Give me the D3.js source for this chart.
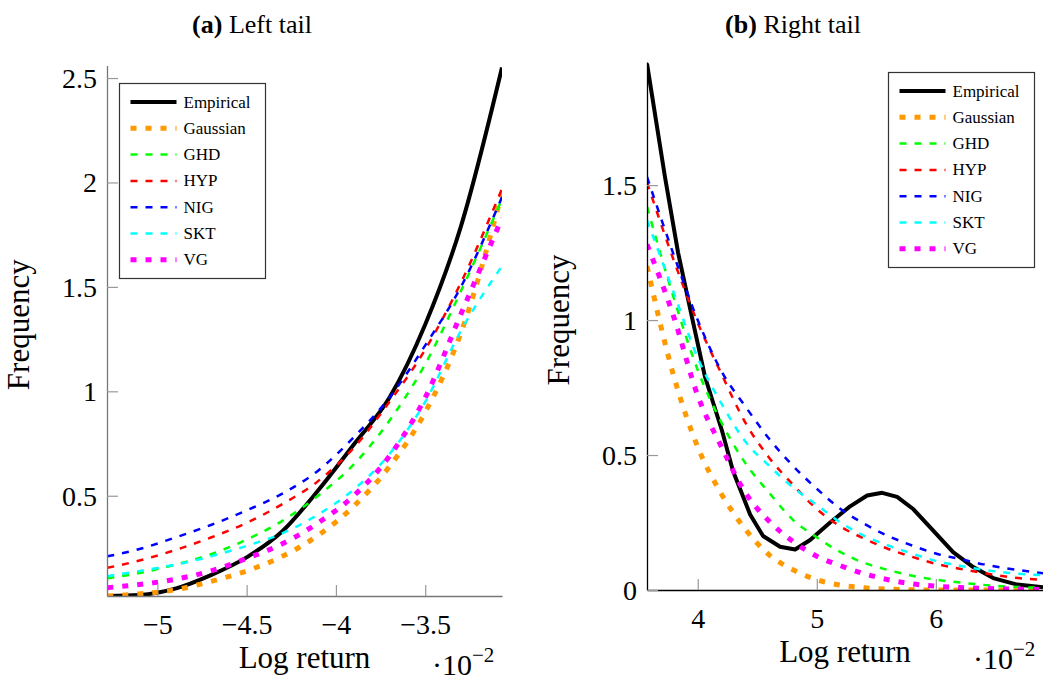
<!DOCTYPE html>
<html>
<head>
<meta charset="utf-8">
<script src="https://cdn.jsdelivr.net/npm/d3@7"></script>
<style>
  body { margin: 0; background: #fff; }
  text { font-family: "Liberation Serif", "DejaVu Serif", serif; }
</style>
</head>
<body>
<div id="chart"></div>
<script>
// ---- data (x in units of 10^-2) ----
var seriesNames = ["Empirical", "Gaussian", "GHD", "HYP", "NIG", "SKT", "VG"];

// left tail
var leftX = [-5.28, -5.1, -4.9, -4.7, -4.5, -4.3, -4.1, -3.9, -3.7, -3.5, -3.3, -3.07];
var leftEmpirical = [0.02, 0.025, 0.055, 0.12, 0.205, 0.33, 0.525, 0.745, 0.97, 1.32, 1.79, 2.55];
var leftGaussian  = [0.02, 0.03, 0.05, 0.09, 0.14, 0.21, 0.31, 0.45, 0.64, 0.90, 1.28, 1.95];
var leftGHD       = [0.105, 0.13, 0.17, 0.22, 0.29, 0.38, 0.50, 0.65, 0.86, 1.13, 1.48, 1.92];
var leftHYP       = [0.155, 0.19, 0.24, 0.30, 0.37, 0.46, 0.57, 0.73, 0.95, 1.20, 1.52, 1.97];
var leftNIG       = [0.21, 0.245, 0.30, 0.36, 0.43, 0.51, 0.62, 0.78, 0.97, 1.22, 1.50, 1.93];
var leftSKT       = [0.115, 0.14, 0.17, 0.21, 0.26, 0.32, 0.41, 0.53, 0.70, 0.95, 1.29, 1.60];
var leftVG        = [0.06, 0.075, 0.10, 0.14, 0.20, 0.27, 0.37, 0.50, 0.69, 0.97, 1.37, 1.83];

// right tail
var rightEmpiricalX = [3.574, 3.725, 3.835, 3.952, 4.061, 4.204, 4.297, 4.44, 4.549, 4.692, 4.818, 4.944,
                       5.112, 5.28, 5.423, 5.549, 5.675, 5.81, 5.978, 6.145, 6.314, 6.482, 6.683, 6.9];
var rightEmpirical  = [1.95, 1.53, 1.25, 1.01, 0.79, 0.59, 0.44, 0.28, 0.20, 0.16, 0.15, 0.185,
                       0.25, 0.31, 0.35, 0.36, 0.345, 0.30, 0.22, 0.14, 0.085, 0.044, 0.02, 0.01];
var rightX        = [3.574, 3.8, 4.0, 4.2, 4.4, 4.6, 4.8, 5.0, 5.2, 5.4, 5.6, 5.8, 6.0, 6.2, 6.4, 6.6, 6.9];
var rightGaussian = [1.20, 0.79, 0.53, 0.355, 0.225, 0.13, 0.075, 0.038, 0.018, 0.008, 0.003, 0.001, 0, 0, 0, 0, 0];
var rightGHD      = [1.42, 1.08, 0.815, 0.62, 0.47, 0.36, 0.26, 0.195, 0.14, 0.10, 0.074, 0.053, 0.038, 0.028, 0.019, 0.013, 0.008];
var rightHYP      = [1.51, 1.22, 0.99, 0.80, 0.62, 0.49, 0.39, 0.30, 0.235, 0.19, 0.152, 0.123, 0.097, 0.079, 0.063, 0.049, 0.037];
var rightNIG      = [1.53, 1.24, 1.00, 0.81, 0.68, 0.56, 0.46, 0.375, 0.30, 0.245, 0.20, 0.165, 0.135, 0.115, 0.095, 0.08, 0.062];
var rightSKT      = [1.37, 1.10, 0.86, 0.69, 0.55, 0.46, 0.38, 0.315, 0.25, 0.20, 0.165, 0.135, 0.108, 0.09, 0.075, 0.064, 0.055];
var rightVG       = [1.28, 1.01, 0.72, 0.53, 0.36, 0.255, 0.18, 0.125, 0.09, 0.06, 0.038, 0.023, 0.014, 0.009, 0.006, 0.004, 0.002];

// ticks
var leftXTicks = [-5, -4.5, -4, -3.5];
var leftYTicks = [0.5, 1, 1.5, 2, 2.5];
var rightXTicks = [4, 5, 6];
var rightYTicks = [0, 0.5, 1, 1.5];

// ---- styles ----
var styles = {
    Empirical: { color: "#000000", width: 4, dash: null },
    Gaussian:  { color: "#ff9900", width: 5, dash: "6,9" },
    GHD:       { color: "#00ff00", width: 2.5, dash: "7,8" },
    HYP:       { color: "#ff0000", width: 2.5, dash: "7,8" },
    NIG:       { color: "#0000ff", width: 2.5, dash: "7,8" },
    SKT:       { color: "#00ffff", width: 2.5, dash: "7,8" },
    VG:        { color: "#ff00ff", width: 5, dash: "6,9" }
};

const width = 1043;
const height = 682;

var svg = d3.select("#chart").append("svg")
    .attr("width", width)
    .attr("height", height);

var fmt = d3.format("~g");

function drawPanel(opt) {
    var x = d3.scaleLinear().domain(opt.xDomain).range(opt.xRange);
    var y = d3.scaleLinear().domain(opt.yDomain).range(opt.yRange);
    var g = svg.append("g");

    // clip
    g.append("clipPath").attr("id", opt.id + "clip")
        .append("rect")
        .attr("x", opt.xRange[0]).attr("y", opt.yRange[1] - 3)
        .attr("width", opt.xRange[1] - opt.xRange[0])
        .attr("height", opt.yRange[0] - opt.yRange[1] + 3);

    // title (centred on the whole subfigure)
    var title = g.append("text")
        .attr("x", opt.titleX)
        .attr("y", 33)
        .attr("text-anchor", "middle")
        .style("font-size", "26px");
    title.append("tspan").style("font-weight", "bold").text(opt.label);
    title.append("tspan").text(" " + opt.title);

    // curves
    var curves = g.append("g").attr("clip-path", "url(#" + opt.id + "clip)");
    opt.series.forEach(function (s) {
        var st = styles[s.name];
        var pts = s.xs.map(function (v, i) { return [v, s.ys[i]]; });
        var line = d3.line()
            .x(function (d) { return x(d[0]); })
            .y(function (d) { return y(d[1]); })
            .curve(s.curve || d3.curveMonotoneX);
        curves.append("path")
            .attr("d", line(pts))
            .attr("fill", "none")
            .attr("stroke", st.color)
            .attr("stroke-width", st.width)
            .attr("stroke-dasharray", st.dash)
            .attr("stroke-linejoin", "round");
    });

    // axes (ticks point inward)
    var xAxis = g.append("g")
        .attr("transform", "translate(0," + opt.yRange[0] + ")")
        .call(d3.axisBottom(x).tickValues(opt.xTicks).tickFormat(fmt)
            .tickSizeInner(-11).tickSizeOuter(0).tickPadding(18));
    var yAxis = g.append("g")
        .attr("transform", "translate(" + opt.xRange[0] + ",0)")
        .call(d3.axisLeft(y).tickValues(opt.yTicks).tickFormat(fmt)
            .tickSizeInner(-11).tickSizeOuter(0).tickPadding(10));

    [xAxis, yAxis].forEach(function (a) {
        a.select(".domain").attr("stroke", opt.axisColor).attr("stroke-width", 1.3);
        a.selectAll(".tick line").attr("stroke", "#999").attr("stroke-width", 1.2);
        a.selectAll(".tick text")
            .attr("fill", "#000")
            .style("font-family", "'Liberation Serif', serif")
            .style("font-size", "28px");
    });
    xAxis.selectAll(".tick text").attr("dy", "0.71em");
    yAxis.selectAll(".tick text").attr("dy", "0.34em");

    // axis labels
    g.append("text")
        .attr("x", (opt.xRange[0] + opt.xRange[1]) / 2)
        .attr("y", opt.yRange[0] + 72)
        .attr("text-anchor", "middle")
        .style("font-size", "31px")
        .text("Log return");

    var mult = g.append("text")
        .attr("x", opt.xRange[1] - 70)
        .attr("y", opt.yRange[0] + 79)
        .style("font-size", "30px");
    mult.append("tspan").text("\u00b710");
    mult.append("tspan").attr("dy", -13).style("font-size", "21px").text("\u22122");

    g.append("text")
        .attr("transform", "translate(" + (opt.xRange[0] - 78) + "," +
            ((opt.yRange[0] + opt.yRange[1]) / 2 - 6) + ") rotate(-90)")
        .attr("text-anchor", "middle")
        .style("font-size", "31px")
        .text("Frequency");

    // legend
    var lg = g.append("g").attr("transform", "translate(" + opt.legend[0] + "," + opt.legend[1] + ")");
    lg.append("rect")
        .attr("x", 0).attr("y", 0)
        .attr("width", 146).attr("height", 195)
        .attr("fill", "#fff")
        .attr("stroke", "#333")
        .attr("stroke-width", 1.2);
    seriesNames.forEach(function (name, i) {
        var st = styles[name];
        var yy = 18.5 + i * 26.3;
        lg.append("line")
            .attr("x1", 11).attr("x2", 57)
            .attr("y1", yy).attr("y2", yy)
            .attr("stroke", st.color)
            .attr("stroke-width", st.width)
            .attr("stroke-dasharray", st.dash);
        lg.append("text")
            .attr("x", 64).attr("y", yy + 5.5)
            .style("font-size", "17px")
            .text(name);
    });
}

drawPanel({
    id: "left",
    label: "(a)",
    title: "Left tail",
    titleX: 252,
    xDomain: [-5.282, -3.07], xRange: [107, 502],
    yDomain: [0.02, 2.56], yRange: [596, 65.5],
    xTicks: leftXTicks, yTicks: leftYTicks,
    axisColor: "#777",
    legend: [119.5, 83.5],
    series: [
        { name: "Empirical", xs: leftX, ys: leftEmpirical },
        { name: "Gaussian", xs: leftX, ys: leftGaussian },
        { name: "GHD", xs: leftX, ys: leftGHD },
        { name: "HYP", xs: leftX, ys: leftHYP },
        { name: "NIG", xs: leftX, ys: leftNIG },
        { name: "SKT", xs: leftX, ys: leftSKT },
        { name: "VG", xs: leftX, ys: leftVG }
    ]
});

drawPanel({
    id: "right",
    label: "(b)",
    title: "Right tail",
    titleX: 793,
    xDomain: [3.574, 6.9], xRange: [647, 1043],
    yDomain: [0, 1.956], yRange: [590, 62],
    xTicks: rightXTicks, yTicks: rightYTicks,
    axisColor: "#000",
    legend: [888.5, 72.5],
    series: [
        { name: "Empirical", xs: rightEmpiricalX, ys: rightEmpirical, curve: d3.curveLinear },
        { name: "Gaussian", xs: rightX, ys: rightGaussian },
        { name: "GHD", xs: rightX, ys: rightGHD },
        { name: "HYP", xs: rightX, ys: rightHYP },
        { name: "NIG", xs: rightX, ys: rightNIG },
        { name: "SKT", xs: rightX, ys: rightSKT },
        { name: "VG", xs: rightX, ys: rightVG }
    ]
});
</script>
</body>
</html>
